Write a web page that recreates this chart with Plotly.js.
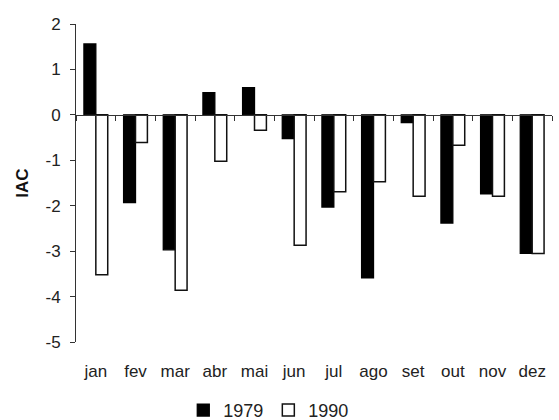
<!DOCTYPE html>
<html>
<head>
<meta charset="utf-8">
<script src="https://cdn.plot.ly/plotly-3.0.1.min.js"></script>
<style>html,body{margin:0;padding:0;background:#fff;}#chart{width:559px;height:420px;}</style>
</head>
<body>
<div id="chart"></div>
<script>
const months = ["jan","fev","mar","abr","mai","jun","jul","ago","set","out","nov","dez"];
const iac1979 = [1.56, -1.93, -2.97, 0.49, 0.60, -0.52, -2.03, -3.59, -0.17, -2.38, -1.74, -3.05];
const iac1990 = [-3.52, -0.61, -3.86, -1.02, -0.34, -2.87, -1.69, -1.47, -1.79, -0.67, -1.79, -3.05];
const yTicks = [-5, -4, -3, -2, -1, 0, 1, 2];
const yTickText = ["-5", "-4", "-3", "-2", "-1", "0", "1", "2"];

const FONT = "Liberation Sans, Arial, sans-serif";
const AX = "#333";

const traces = [
  {type: "bar", name: "1979", x: months, y: iac1979,
   marker: {color: "#000", line: {color: "#000", width: 1.3}}, hoverinfo: "skip"},
  {type: "bar", name: "1990", x: months, y: iac1990,
   marker: {color: "#fff", line: {color: "#111", width: 1.5}}, hoverinfo: "skip"},
  {type: "scatter", mode: "markers", x: months, y: iac1979, xaxis: "x2",
   marker: {opacity: 0}, showlegend: false, hoverinfo: "skip"}
];

const layout = {
  width: 559, height: 420,
  margin: {l: 76, r: 7, t: 24, b: 78, autoexpand: false},
  paper_bgcolor: "#fff", plot_bgcolor: "#fff",
  font: {family: FONT, color: "#222", size: 16},
  barmode: "group", bargap: 0.4, bargroupgap: 0,
  showlegend: true,
  legend: {orientation: "h", x: 0.405, xanchor: "center", y: -0.215, yanchor: "middle",
           font: {size: 18, color: "#222"}, traceorder: "normal", itemwidth: 30},
  xaxis: {type: "category", categoryarray: months, range: [-0.5, 11.5],
          showline: false, ticks: "", showgrid: false, zeroline: false,
          tickfont: {size: 17}, ticklabelstandoff: 17, fixedrange: true},
  xaxis2: {type: "category", categoryarray: months, overlaying: "x", anchor: "free",
           position: 5/7, side: "bottom", range: [-0.5, 11.5],
           showline: true, linecolor: AX, linewidth: 1,
           ticks: "outside", tickson: "boundaries", ticklen: 5, tickcolor: AX, tickwidth: 1,
           showticklabels: false, showgrid: false, zeroline: false},
  yaxis: {range: [-5, 2], tickvals: yTicks, ticktext: yTickText,
          showline: true, linecolor: AX, linewidth: 1,
          ticks: "outside", ticklen: 5, tickcolor: AX, showgrid: false, zeroline: false,
          tickfont: {size: 17}, ticklabelstandoff: 6,
          title: {text: "<b>IAC</b>", font: {size: 17, color: "#111"}, standoff: 12}}
};

Plotly.newPlot("chart", traces, layout, {displayModeBar: false, staticPlot: true});
</script>
</body>
</html>
